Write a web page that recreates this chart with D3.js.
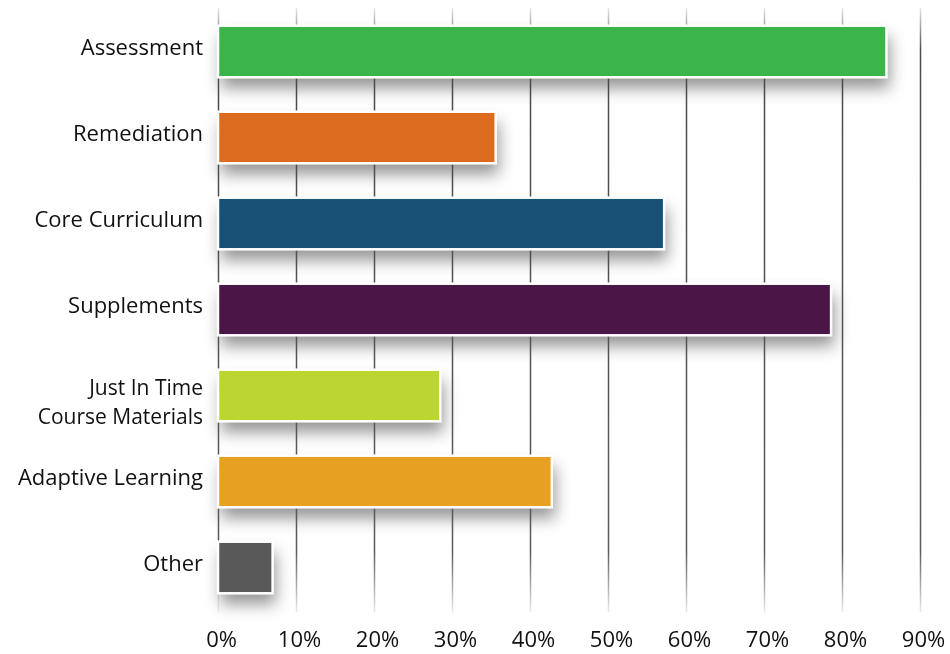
<!DOCTYPE html>
<html><head><meta charset="utf-8">
<script src="https://cdn.jsdelivr.net/npm/d3@7"></script>
<style>html,body{margin:0;padding:0;background:#fff;}svg{display:block;}text{font-variant-ligatures:none;}</style>
</head><body>
<script>
const categories = ["Assessment","Remediation","Core Curriculum","Supplements","Just In Time\nCourse Materials","Adaptive Learning","Other"];
const values = [85.7, 35.6, 57.2, 78.6, 28.5, 42.8, 7.0];
const colors = ["#3bb44a","#dc6b1f","#175276","#4a1547","#bcd531","#e8a023","#595959"];
const tickValues = [0,10,20,30,40,50,60,70,80,90];

const W = 950, H = 654;
const FONT = "'Open Sans', sans-serif";
const svg = d3.select("body").append("svg").attr("width", W).attr("height", H);
const defs = svg.append("defs");
const f = defs.append("filter").attr("id","sh").attr("x","-30%").attr("y","-80%").attr("width","160%").attr("height","300%");
f.append("feGaussianBlur").attr("in","SourceGraphic").attr("stdDeviation",8);

const x = d3.scaleLinear().domain([0,90]).range([218,920]);
const y = d3.scaleBand().domain(categories).range([8.5,610.5]).paddingInner(0.4).paddingOuter(0.2);

// shadows
svg.append("g").attr("opacity",0.62).selectAll("rect").data(values).join("rect")
  .attr("x", x(0) + 3)
  .attr("y", (d,i) => y(categories[i]) + 11)
  .attr("width", d => x(d) - x(0))
  .attr("height", y.bandwidth())
  .attr("fill", "#555")
  .attr("filter","url(#sh)");

const g = defs.append("linearGradient").attr("id","gl").attr("gradientUnits","userSpaceOnUse")
  .attr("x1",0).attr("y1",-604).attr("x2",0).attr("y2",0);
g.append("stop").attr("offset","0").attr("stop-color","#e6e6e6");
g.append("stop").attr("offset","0.07").attr("stop-color","#4a4a4a");
g.append("stop").attr("offset","0.9").attr("stop-color","#5a5a5a");
g.append("stop").attr("offset","1").attr("stop-color","#eaeaea");

const xAxis = d3.axisBottom(x).tickValues(tickValues).tickFormat(d => d + "%").tickSize(-(612-8)).tickPadding(19);
const ax = svg.append("g").attr("transform","translate(0,612)").call(xAxis);
ax.select(".domain").remove();
ax.selectAll(".tick line").attr("stroke","url(#gl)").attr("stroke-width",1.5);
ax.selectAll(".tick text").attr("font-family",FONT).attr("font-size",22).attr("fill","#111").attr("dx",3).attr("dy","0.71em");

svg.append("g").selectAll("rect").data(values).join("rect")
  .attr("x", x(0))
  .attr("y", (d,i) => y(categories[i]))
  .attr("width", d => x(d) - x(0))
  .attr("height", y.bandwidth())
  .attr("fill", (d,i) => colors[i])
  .attr("stroke","#fff").attr("stroke-width",2.5);

const yAxis = d3.axisLeft(y).tickSize(0).tickPadding(15);
const ay = svg.append("g").attr("transform","translate(218,0)").call(yAxis);
ay.select(".domain").remove();
ay.selectAll(".tick text").attr("font-family",FONT).attr("fill","#111")
  .each(function(d){
    const lines = d.split("\n");
    const t = d3.select(this).text(null).attr("dy",null).attr("font-size", lines.length > 1 ? 21 : 22);
    lines.forEach((ln,k) => {
      t.append("tspan").attr("x",-15).attr("y", k===0 ? (lines.length>1 ? -0.5 : 3.5) : 28.5).text(ln);
    });
  });
</script>
</body></html>
